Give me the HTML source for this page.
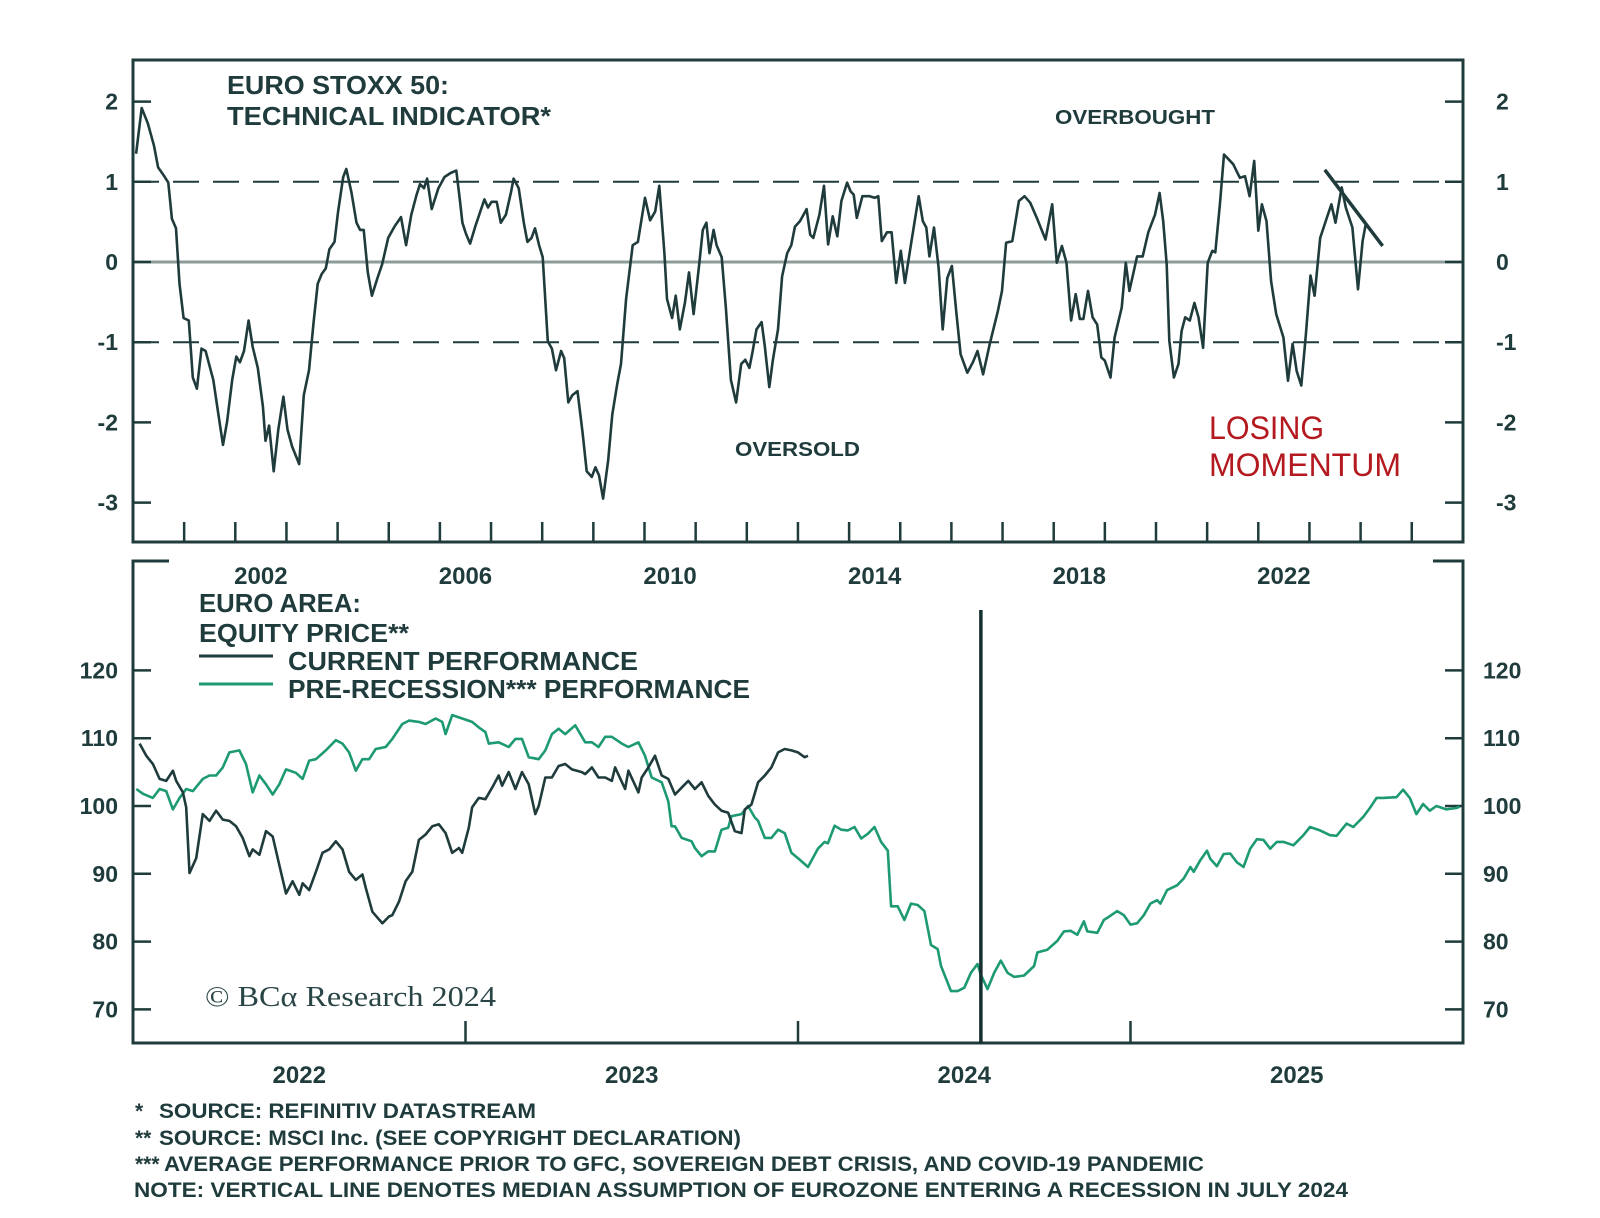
<!DOCTYPE html>
<html><head><meta charset="utf-8"><style>
html,body{margin:0;padding:0;background:#fff;}
svg{display:block;font-family:"Liberation Sans",Arial,sans-serif;}
</style></head><body>
<svg id="chart" width="1600" height="1218" viewBox="0 0 1600 1218" xmlns="http://www.w3.org/2000/svg">
<rect width="1600" height="1218" fill="#fff"/>
<g id="topPanel"></g>
<g id="botPanel"></g>
<g fill="#1f3b3c" font-weight="bold" font-size="21">
<text x="135" y="1118">*</text>
<text x="159" y="1118" textLength="377" lengthAdjust="spacingAndGlyphs">SOURCE: REFINITIV DATASTREAM</text>
<text x="135" y="1145">**</text>
<text x="159" y="1145" textLength="582" lengthAdjust="spacingAndGlyphs">SOURCE: MSCI Inc. (SEE COPYRIGHT DECLARATION)</text>
<text x="135" y="1171">***</text>
<text x="164" y="1171" textLength="1040" lengthAdjust="spacingAndGlyphs">AVERAGE PERFORMANCE PRIOR TO GFC, SOVEREIGN DEBT CRISIS, AND COVID-19 PANDEMIC</text>
<text x="134" y="1197" textLength="1214" lengthAdjust="spacingAndGlyphs">NOTE: VERTICAL LINE DENOTES MEDIAN ASSUMPTION OF EUROZONE ENTERING A RECESSION IN JULY 2024</text>
</g>
</svg>
<script>
// ---- top panel data ----
const techYears = [2000.06,2000.17,2000.29,2000.41,2000.49,2000.59,2000.69,2000.76,2000.84,2000.91,2000.99,2001.09,2001.17,2001.25,2001.34,2001.42,2001.57,2001.67,2001.76,2001.84,2001.94,2002.02,2002.09,2002.17,2002.26,2002.34,2002.44,2002.54,2002.59,2002.66,2002.75,2002.84,2002.94,2003.02,2003.11,2003.25,2003.34,2003.44,2003.53,2003.61,2003.69,2003.77,2003.84,2003.94,2004.01,2004.11,2004.17,2004.27,2004.37,2004.44,2004.51,2004.59,2004.67,2004.79,2004.87,2004.99,2005.11,2005.24,2005.34,2005.44,2005.54,2005.61,2005.69,2005.75,2005.84,2005.97,2006.09,2006.21,2006.32,2006.39,2006.44,2006.51,2006.59,2006.69,2006.79,2006.87,2006.94,2007.01,2007.11,2007.19,2007.29,2007.39,2007.44,2007.54,2007.64,2007.71,2007.79,2007.86,2007.94,2008.01,2008.11,2008.19,2008.27,2008.37,2008.43,2008.51,2008.59,2008.69,2008.79,2008.87,2008.97,2009.04,2009.11,2009.19,2009.29,2009.37,2009.47,2009.54,2009.64,2009.77,2009.87,2010.01,2010.11,2010.21,2010.29,2010.39,2010.44,2010.54,2010.61,2010.69,2010.79,2010.87,2010.96,2011.07,2011.14,2011.21,2011.27,2011.35,2011.41,2011.51,2011.59,2011.69,2011.79,2011.89,2011.97,2012.05,2012.11,2012.19,2012.29,2012.35,2012.44,2012.51,2012.61,2012.69,2012.79,2012.87,2012.94,2013.04,2013.17,2013.24,2013.30,2013.42,2013.51,2013.59,2013.68,2013.77,2013.85,2013.96,2014.03,2014.09,2014.15,2014.26,2014.40,2014.50,2014.57,2014.64,2014.74,2014.83,2014.92,2015.01,2015.09,2015.22,2015.36,2015.44,2015.51,2015.57,2015.66,2015.75,2015.83,2015.92,2016.01,2016.10,2016.18,2016.31,2016.42,2016.51,2016.62,2016.75,2016.91,2016.99,2017.07,2017.19,2017.32,2017.43,2017.54,2017.67,2017.84,2017.97,2018.06,2018.16,2018.25,2018.34,2018.43,2018.51,2018.58,2018.67,2018.76,2018.85,2018.93,2019.00,2019.11,2019.19,2019.33,2019.41,2019.48,2019.63,2019.74,2019.85,2019.98,2020.07,2020.14,2020.21,2020.26,2020.35,2020.44,2020.50,2020.57,2020.66,2020.75,2020.83,2020.92,2021.01,2021.10,2021.16,2021.25,2021.33,2021.42,2021.51,2021.64,2021.74,2021.83,2021.92,2022.00,2022.07,2022.16,2022.25,2022.35,2022.49,2022.58,2022.67,2022.75,2022.84,2022.93,2023.02,2023.10,2023.21,2023.34,2023.43,2023.51,2023.63,2023.71,2023.84,2023.95,2024.04,2024.10];
const techValues = [1.35,1.92,1.73,1.45,1.18,1.09,0.99,0.54,0.42,-0.27,-0.7,-0.73,-1.44,-1.58,-1.08,-1.11,-1.47,-1.9,-2.28,-1.99,-1.47,-1.18,-1.25,-1.11,-0.73,-1.06,-1.32,-1.8,-2.23,-2.04,-2.61,-2.09,-1.68,-2.09,-2.3,-2.52,-1.66,-1.35,-0.75,-0.27,-0.15,-0.08,0.16,0.25,0.63,1.06,1.16,0.87,0.49,0.4,0.4,-0.13,-0.42,-0.18,-0.03,0.3,0.44,0.56,0.21,0.59,0.83,0.97,0.92,1.04,0.66,0.92,1.06,1.11,1.14,0.78,0.49,0.35,0.23,0.44,0.63,0.78,0.68,0.75,0.75,0.49,0.59,0.87,1.04,0.92,0.49,0.25,0.3,0.42,0.21,0.06,-0.99,-1.08,-1.35,-1.11,-1.2,-1.75,-1.66,-1.61,-2.13,-2.61,-2.68,-2.56,-2.66,-2.95,-2.47,-1.9,-1.51,-1.27,-0.46,0.21,0.25,0.8,0.52,0.63,0.95,0.11,-0.46,-0.7,-0.42,-0.84,-0.51,-0.13,-0.65,-0.03,0.4,0.49,0.11,0.4,0.21,0.06,-0.56,-1.47,-1.75,-1.27,-1.22,-1.32,-1.13,-0.84,-0.75,-1.04,-1.56,-1.22,-0.84,-0.18,0.11,0.21,0.44,0.51,0.66,0.34,0.3,0.59,0.95,0.22,0.57,0.32,0.76,0.99,0.88,0.84,0.55,0.82,0.82,0.8,0.82,0.26,0.37,0.37,-0.26,0.14,-0.26,0.26,0.82,0.51,0.43,0.07,0.43,-0.07,-0.84,-0.2,-0.05,-0.65,-1.15,-1.38,-1.25,-1.11,-1.4,-1.02,-0.61,-0.36,0.24,0.26,0.76,0.82,0.74,0.55,0.28,0.72,-0.01,0.2,-0.01,-0.73,-0.4,-0.71,-0.71,-0.36,-0.69,-0.78,-1.19,-1.23,-1.44,-0.94,-0.57,-0.01,-0.36,0.07,0.07,0.37,0.59,0.86,0.51,-0.03,-0.98,-1.44,-1.27,-0.86,-0.69,-0.73,-0.51,-0.69,-1.07,-0.01,0.14,0.12,0.72,1.34,1.28,1.22,1.05,1.07,0.82,1.26,0.39,0.72,0.51,-0.24,-0.65,-0.94,-1.48,-1.02,-1.36,-1.54,-0.9,-0.17,-0.42,0.3,0.55,0.72,0.49,0.93,0.68,0.43,-0.34,0.26,0.47,0.26];
const trendYears = [2023.30, 2024.43];
const trendValues = [1.15, 0.20];
const techTicks = [2,1,0,-1,-2,-3];
const topYearLabels = [2002,2006,2010,2014,2018,2022];

// ---- bottom panel data ----
const curYears = [2022.02,2022.04,2022.06,2022.08,2022.10,2022.12,2022.13,2022.15,2022.16,2022.17,2022.19,2022.21,2022.23,2022.25,2022.27,2022.29,2022.31,2022.33,2022.35,2022.36,2022.38,2022.40,2022.42,2022.44,2022.46,2022.48,2022.50,2022.51,2022.53,2022.55,2022.57,2022.59,2022.61,2022.63,2022.65,2022.67,2022.69,2022.70,2022.72,2022.75,2022.77,2022.78,2022.80,2022.82,2022.84,2022.86,2022.88,2022.90,2022.92,2022.94,2022.96,2022.98,2022.99,2023.01,2023.02,2023.04,2023.06,2023.08,2023.10,2023.11,2023.13,2023.15,2023.17,2023.19,2023.21,2023.22,2023.24,2023.26,2023.28,2023.30,2023.32,2023.35,2023.36,2023.38,2023.40,2023.42,2023.44,2023.45,2023.48,2023.49,2023.52,2023.53,2023.55,2023.57,2023.59,2023.61,2023.63,2023.65,2023.67,2023.69,2023.71,2023.73,2023.75,2023.77,2023.79,2023.81,2023.83,2023.84,2023.86,2023.88,2023.90,2023.92,2023.94,2023.96,2023.98,2024.00,2024.02,2024.03];
const curValues = [109.2,107.4,106.2,104.0,103.7,105.2,103.7,102.0,99.8,90.1,92.3,98.8,97.8,99.3,98.0,97.8,97.0,95.3,92.6,93.6,92.8,96.3,95.5,91.3,87.1,88.9,86.9,88.6,87.6,90.3,93.1,93.6,94.8,93.6,90.3,89.1,89.9,87.9,84.4,82.7,83.7,83.9,85.9,88.9,90.3,95.0,95.8,97.0,97.3,96.0,93.1,93.8,93.1,96.8,99.8,101.2,101.0,102.7,104.5,103.0,105.0,102.5,105.0,103.2,98.8,100.0,104.2,104.2,105.9,106.2,105.4,105.0,104.7,105.7,104.2,104.2,103.7,105.7,102.5,105.2,102.0,104.2,105.7,107.4,104.5,104.0,101.7,102.7,103.7,102.5,103.5,101.5,100.2,99.3,99.0,96.3,96.0,99.5,100.2,103.5,104.5,105.7,107.9,108.4,108.2,107.9,107.2,107.4];
const preYears = [2022.01,2022.03,2022.06,2022.08,2022.10,2022.12,2022.14,2022.16,2022.18,2022.21,2022.23,2022.25,2022.27,2022.29,2022.32,2022.34,2022.36,2022.38,2022.40,2022.42,2022.44,2022.46,2022.49,2022.51,2022.53,2022.55,2022.58,2022.61,2022.63,2022.65,2022.67,2022.69,2022.71,2022.73,2022.76,2022.78,2022.81,2022.83,2022.86,2022.88,2022.91,2022.93,2022.94,2022.96,2022.99,2023.02,2023.04,2023.06,2023.07,2023.10,2023.13,2023.15,2023.17,2023.19,2023.22,2023.24,2023.26,2023.28,2023.30,2023.33,2023.36,2023.38,2023.40,2023.42,2023.44,2023.47,2023.49,2023.52,2023.54,2023.56,2023.59,2023.61,2023.62,2023.63,2023.65,2023.68,2023.69,2023.71,2023.73,2023.75,2023.77,2023.79,2023.80,2023.83,2023.85,2023.87,2023.88,2023.90,2023.92,2023.94,2023.96,2023.98,2024.00,2024.03,2024.06,2024.08,2024.09,2024.11,2024.13,2024.15,2024.17,2024.19,2024.21,2024.23,2024.25,2024.27,2024.28,2024.30,2024.32,2024.34,2024.36,2024.38,2024.40,2024.42,2024.43,2024.46,2024.48,2024.50,2024.52,2024.54,2024.55,2024.57,2024.59,2024.61,2024.63,2024.65,2024.68,2024.71,2024.72,2024.75,2024.78,2024.80,2024.82,2024.84,2024.86,2024.87,2024.90,2024.92,2024.93,2024.96,2024.98,2025.00,2025.02,2025.04,2025.06,2025.08,2025.09,2025.11,2025.14,2025.16,2025.18,2025.19,2025.21,2025.23,2025.24,2025.26,2025.28,2025.30,2025.32,2025.34,2025.36,2025.38,2025.40,2025.42,2025.44,2025.46,2025.49,2025.52,2025.54,2025.57,2025.60,2025.62,2025.65,2025.67,2025.70,2025.72,2025.74,2025.76,2025.80,2025.82,2025.84,2025.86,2025.88,2025.90,2025.92,2025.95,2025.98,2025.99];
const preValues = [102.5,101.8,101.2,102.5,102.2,99.5,101.2,102.5,102.2,104.0,104.5,104.5,105.7,107.9,108.2,106.2,102.0,104.5,103.2,101.7,103.2,105.4,104.9,104.0,106.7,106.9,108.2,109.7,109.2,107.9,105.2,106.9,106.9,108.4,108.7,109.9,112.1,112.6,112.4,112.1,112.9,112.4,110.6,113.4,112.9,112.4,111.6,110.9,109.2,109.4,108.7,109.9,109.9,107.2,106.9,108.2,110.6,111.4,110.6,111.9,109.4,109.4,108.7,110.2,110.2,109.2,108.7,109.4,107.4,104.2,103.5,100.7,97.0,97.0,95.3,94.8,93.8,92.6,93.3,93.3,96.5,96.8,98.5,98.8,100.0,98.3,97.8,95.3,95.3,96.5,96.0,93.1,92.3,91.0,93.7,94.7,94.5,97.1,96.5,96.4,96.9,95.2,95.9,96.9,94.7,93.4,85.2,85.2,83.2,85.6,85.4,84.5,79.5,78.9,76.4,72.7,72.7,73.2,75.4,76.7,75.1,73.0,75.4,77.2,75.4,74.8,75.0,76.4,78.4,78.8,80.1,81.5,81.6,81.0,83.0,81.5,81.3,83.2,83.5,84.5,83.9,82.5,82.7,83.9,85.6,86.1,85.6,87.6,88.3,89.3,91.0,90.3,92.0,93.4,92.2,91.1,92.9,93.0,91.7,91.0,93.7,95.1,95.0,93.7,94.7,94.7,94.2,95.7,96.9,96.4,95.7,95.6,97.4,96.9,98.4,99.7,101.2,101.2,101.3,102.4,101.2,98.8,100.3,99.3,100.0,99.5,99.7,99.9];
const priceTicks = [120,110,100,90,80,70];
const botYearLabels = [2022,2023,2024,2025];
const recessionDate = [2024.55];

const NS='http://www.w3.org/2000/svg';
const DARK='#1f3b3c', GREEN='#1d9a73';
function mk(parent,tag,attrs,text){const el=document.createElementNS(NS,tag);for(const k in attrs)el.setAttribute(k,attrs[k]);if(text!==undefined)el.textContent=text;parent.appendChild(el);return el;}

// top axes
const T={l:133,r:1463,t:60,b:542};
const tx=y=>T.l+(y-2000)*51.15;
const ty=v=>262-v*80.2;
const topG=document.getElementById('topPanel');
let e;
e=mk(topG,'line',{x1:T.l,x2:T.r,y1:ty(0),y2:ty(0),stroke:'#8c9c9a','stroke-width':3});


[1,-1].forEach(v=>{e=mk(topG,'line',{x1:T.l,x2:T.r,y1:ty(v),y2:ty(v),stroke:DARK,'stroke-width':2,'stroke-dasharray':'26 14'});

});
let d=techYears.map((y,i)=>(i?'L':'M')+tx(y).toFixed(1)+','+ty(techValues[i]).toFixed(1)).join('');
e=mk(topG,'path',{d:d,fill:'none',stroke:DARK,'stroke-width':2.6,'stroke-linejoin':'round'});


e=mk(topG,'line',{x1:tx(trendYears[0]),y1:ty(trendValues[0]),x2:tx(trendYears[1]),y2:ty(trendValues[1]),stroke:DARK,'stroke-width':3.5});


e=mk(topG,'rect',{x:T.l,y:T.t,width:T.r-T.l,height:T.b-T.t,fill:'none',stroke:DARK,'stroke-width':3});


techTicks.forEach(v=>{
 e=mk(topG,'line',{x1:T.l,x2:T.l+18,y1:ty(v),y2:ty(v),stroke:DARK,'stroke-width':2.5});
 
 
 e=mk(topG,'line',{x1:T.r-18,x2:T.r,y1:ty(v),y2:ty(v),stroke:DARK,'stroke-width':2.5});
 
 
 e=mk(topG,'text',{x:118,y:ty(v)+8,'text-anchor':'end','font-size':23,'font-weight':'bold',fill:DARK},String(v));
 
 
 e=mk(topG,'text',{x:1496,y:ty(v)+8,'text-anchor':'start','font-size':23,'font-weight':'bold',fill:DARK},String(v));
 
 
});
for(let y=2001;y<=2025;y++){e=mk(topG,'line',{x1:tx(y),x2:tx(y),y1:T.b-20,y2:T.b,stroke:DARK,'stroke-width':2.5});
 
 }
topYearLabels.forEach(y=>{e=mk(topG,'text',{x:tx(y+0.5),y:584,'text-anchor':'middle','font-size':24,'font-weight':'bold',fill:DARK},String(y));
 
 });
e=mk(topG,'text',{x:227,y:94,'font-size':26,'font-weight':'bold',fill:DARK,textLength:222,lengthAdjust:'spacingAndGlyphs'},'EURO STOXX 50:');


e=mk(topG,'text',{x:227,y:125,'font-size':26,'font-weight':'bold',fill:DARK,textLength:324,lengthAdjust:'spacingAndGlyphs'},'TECHNICAL INDICATOR*');


e=mk(topG,'text',{x:1055,y:124,'font-size':20,'font-weight':'bold',fill:DARK,textLength:160,lengthAdjust:'spacingAndGlyphs'},'OVERBOUGHT');


e=mk(topG,'text',{x:735,y:456,'font-size':20,'font-weight':'bold',fill:DARK,textLength:125,lengthAdjust:'spacingAndGlyphs'},'OVERSOLD');


e=mk(topG,'text',{x:1209,y:439,'font-size':32,fill:'#b3191f',textLength:115,lengthAdjust:'spacingAndGlyphs'},'LOSING');


e=mk(topG,'text',{x:1209,y:476,'font-size':32,fill:'#b3191f',textLength:192,lengthAdjust:'spacingAndGlyphs'},'MOMENTUM');



// bottom axes
const B={l:133,r:1463,t:561,b:1043};
const bx=y=>B.l+(y-2022)*332.5;
const by=v=>806-(v-100)*6.78;
const botG=document.getElementById('botPanel');
e=mk(botG,'path',{d:`M${B.l+36},${B.t}H${B.l}V${B.b}H${B.r}V${B.t}H${B.r-30}`,fill:'none',stroke:DARK,'stroke-width':3});


priceTicks.forEach(v=>{
 e=mk(botG,'line',{x1:B.l,x2:B.l+18,y1:by(v),y2:by(v),stroke:DARK,'stroke-width':2.5});
 
 
 e=mk(botG,'line',{x1:B.r-18,x2:B.r,y1:by(v),y2:by(v),stroke:DARK,'stroke-width':2.5});
 
 
 e=mk(botG,'text',{x:118,y:by(v)+8,'text-anchor':'end','font-size':23,'font-weight':'bold',fill:DARK},String(v));
 
 
 e=mk(botG,'text',{x:1483,y:by(v)+8,'text-anchor':'start','font-size':23,'font-weight':'bold',fill:DARK},String(v));
 
 
});
for(let y=2023;y<=2025;y++){e=mk(botG,'line',{x1:bx(y),x2:bx(y),y1:B.b-22,y2:B.b,stroke:DARK,'stroke-width':2.5});
 
 }
botYearLabels.forEach(y=>{e=mk(botG,'text',{x:bx(y+0.5),y:1083,'text-anchor':'middle','font-size':24,'font-weight':'bold',fill:DARK},String(y));
 
 });
d=preYears.map((y,i)=>(i?'L':'M')+bx(y).toFixed(1)+','+by(preValues[i]).toFixed(1)).join('');
e=mk(botG,'path',{d:d,fill:'none',stroke:GREEN,'stroke-width':2.6,'stroke-linejoin':'round'});


d=curYears.map((y,i)=>(i?'L':'M')+bx(y).toFixed(1)+','+by(curValues[i]).toFixed(1)).join('');
e=mk(botG,'path',{d:d,fill:'none',stroke:DARK,'stroke-width':2.6,'stroke-linejoin':'round'});


e=mk(botG,'line',{x1:bx(recessionDate[0]),x2:bx(recessionDate[0]),y1:610,y2:B.b,stroke:'#163030','stroke-width':3.5});


e=mk(botG,'text',{x:199,y:612,'font-size':26,'font-weight':'bold',fill:DARK,textLength:162,lengthAdjust:'spacingAndGlyphs'},'EURO AREA:');


e=mk(botG,'text',{x:199,y:642,'font-size':26,'font-weight':'bold',fill:DARK,textLength:210,lengthAdjust:'spacingAndGlyphs'},'EQUITY PRICE**');


e=mk(botG,'line',{x1:199,x2:273,y1:656,y2:656,stroke:DARK,'stroke-width':3});


e=mk(botG,'text',{x:288,y:670,'font-size':26,'font-weight':'bold',fill:DARK,textLength:350,lengthAdjust:'spacingAndGlyphs'},'CURRENT PERFORMANCE');


e=mk(botG,'line',{x1:199,x2:273,y1:684,y2:684,stroke:GREEN,'stroke-width':3});


e=mk(botG,'text',{x:288,y:698,'font-size':26,'font-weight':'bold',fill:DARK,textLength:462,lengthAdjust:'spacingAndGlyphs'},'PRE-RECESSION*** PERFORMANCE');


e=mk(botG,'text',{x:205,y:1006,'font-size':28,fill:'#2a4546','font-family':'"Liberation Serif",serif',textLength:291,lengthAdjust:'spacingAndGlyphs'},'© BCα Research 2024');


</script>
</body></html>
